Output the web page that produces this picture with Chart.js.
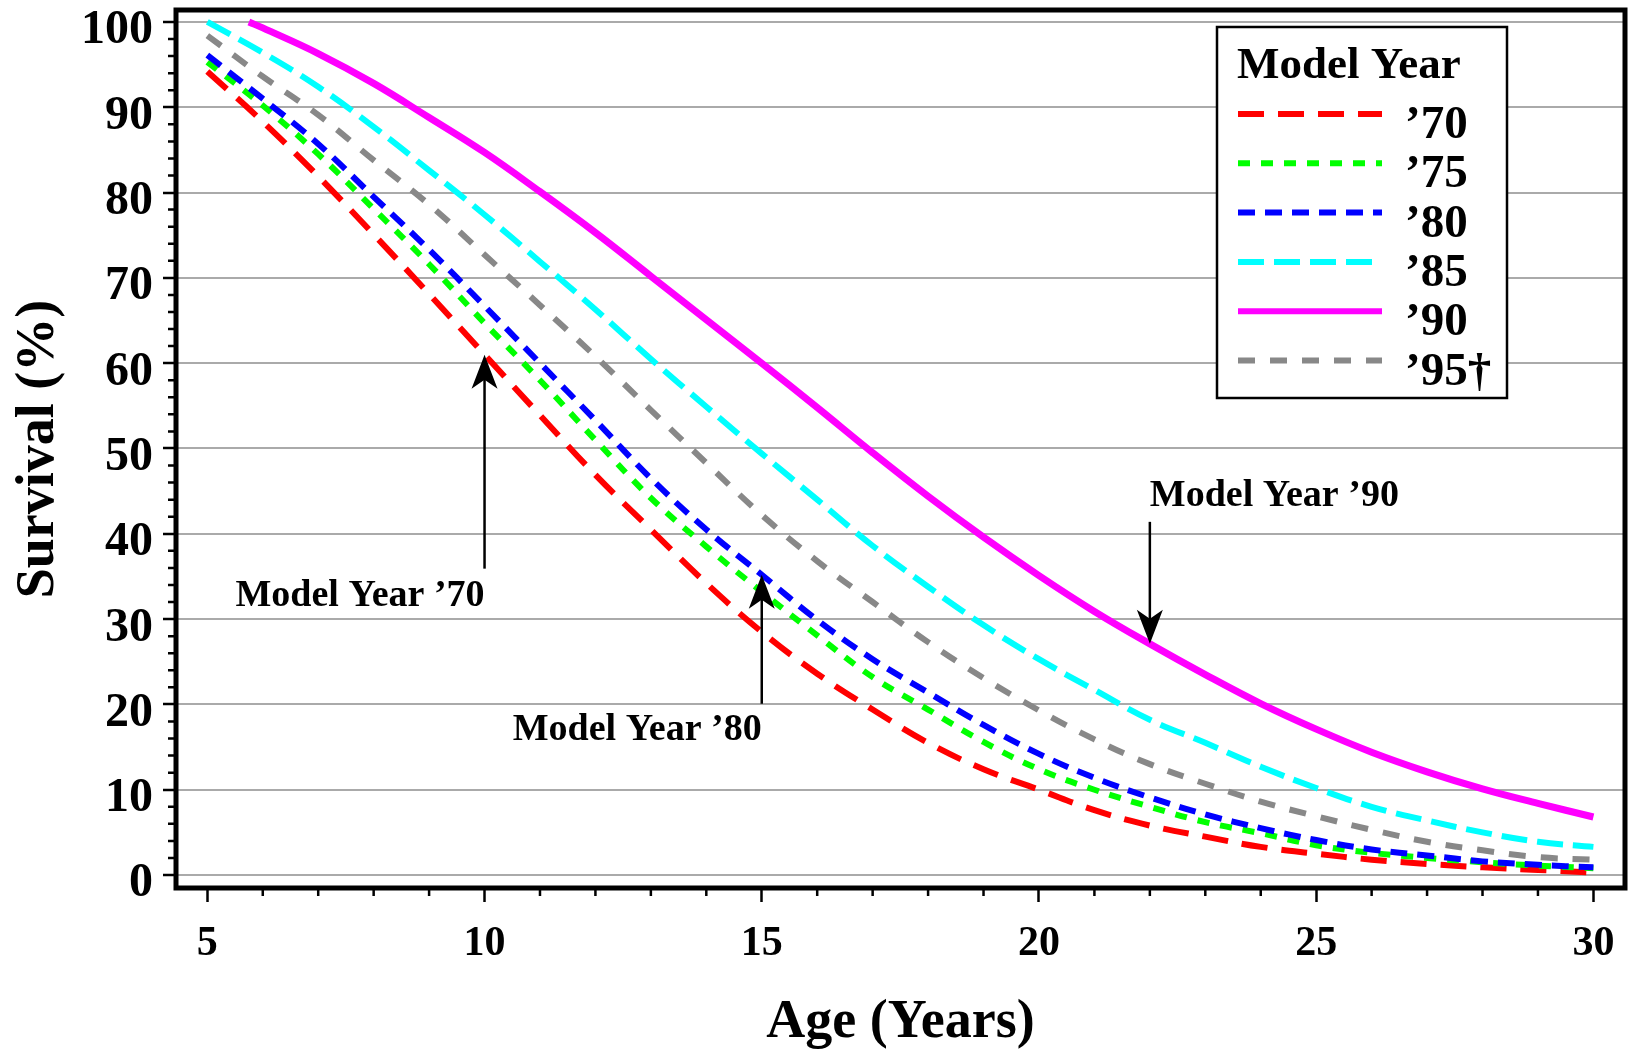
<!DOCTYPE html>
<html>
<head>
<meta charset="utf-8">
<script src="https://cdn.jsdelivr.net/npm/chart.js@4.4.1/dist/chart.umd.min.js"></script>
<style>
  html, body { margin: 0; padding: 0; background: #fff; }
  #wrap { width: 1630px; height: 1049px; }
</style>
</head>
<body>
<div id="wrap"><canvas id="myChart" width="1630" height="1049"></canvas></div>
<script>
// ages (years) and survival (%)
const ages = [5, 6, 7, 8, 9, 10, 11, 12, 13, 14, 15, 16, 17, 18, 19, 20, 21, 22, 23, 24, 25, 26, 27, 28, 29, 30];
const ages90 = [5.75, 6, 7, 8, 9, 10, 11, 12, 13, 14, 15, 16, 17, 18, 19, 20, 21, 22, 23, 24, 25, 26, 27, 28, 29, 30];

const survival70 = [94.2, 88.3, 81.9, 75.1, 68.1, 61.0, 53.9, 46.9, 40.5, 34.2, 28.5, 23.6, 19.4, 15.5, 12.4, 10.0, 7.6, 5.8, 4.5, 3.3, 2.5, 1.8, 1.3, 0.9, 0.6, 0.3];
const survival75 = [95.3, 90.2, 84.5, 78.1, 71.6, 64.7, 58.0, 51.0, 44.2, 38.5, 33.2, 28.1, 23.2, 19.4, 15.6, 12.4, 10.0, 8.0, 6.2, 4.9, 3.5, 2.6, 2.0, 1.5, 1.1, 0.8];
const survival80 = [96.1, 91.0, 85.7, 79.5, 73.3, 66.7, 60.0, 53.3, 46.5, 40.5, 35.2, 29.9, 25.3, 21.4, 17.6, 14.2, 11.4, 9.1, 7.1, 5.5, 4.1, 3.0, 2.3, 1.6, 1.2, 0.9];
const survival85 = [100, 96.4, 92.4, 87.7, 82.6, 77.4, 71.9, 66.3, 60.5, 54.9, 49.4, 44.0, 38.6, 33.8, 29.3, 25.3, 21.7, 18.2, 15.5, 12.7, 10.2, 8.0, 6.4, 5.0, 3.9, 3.3];
const survival90 = [100, 99.3, 96.3, 92.8, 88.8, 84.7, 80.1, 75.3, 70.2, 65.1, 60.0, 54.8, 49.5, 44.4, 39.6, 35.1, 30.9, 27.1, 23.5, 20.1, 17.1, 14.4, 12.1, 10.1, 8.4, 6.8];
const survival95 = [98.4, 93.6, 89.1, 83.8, 78.6, 72.7, 66.8, 60.8, 54.5, 48.3, 42.2, 36.8, 32.0, 27.3, 23.1, 19.3, 15.9, 13.0, 10.7, 8.6, 6.9, 5.3, 3.9, 2.9, 2.1, 1.8];

const seriesLabels = ["’70", "’75", "’80", "’85", "’90", "’95†"];
const xTickValues = [5, 10, 15, 20, 25, 30];
const xMinorValues = [6, 7, 8, 9, 11, 12, 13, 14, 16, 17, 18, 19, 21, 22, 23, 24, 26, 27, 28, 29];
const yTickValues = [0, 10, 20, 30, 40, 50, 60, 70, 80, 90, 100];
const yMinorValues = [2, 4, 6, 8, 12, 14, 16, 18, 22, 24, 26, 28, 32, 34, 36, 38, 42, 44, 46, 48,
  52, 54, 56, 58, 62, 64, 66, 68, 72, 74, 76, 78, 82, 84, 86, 88, 92, 94, 96, 98];

// callouts: which series / age the arrow points at
const notes = [
  { series: 0, age: 10, text: "Model Year ’70", up: true, shaft: 214, gap: 37, align: "right" },
  { series: 2, age: 15, text: "Model Year ’80", up: true, shaft: 129, gap: 36, align: "right" },
  { series: 4, age: 22, text: "Model Year ’90", up: false, shaft: 122, gap: 16, align: "left" },
];

const FONT = "'Liberation Serif', 'Times New Roman', serif";
Chart.defaults.font.family = FONT;
Chart.defaults.color = "#000";

function pts(xs, ys) {
  return xs.map((x, i) => ({ x: x, y: ys[i] }));
}

function line(label, xs, ys, color, dash, order) {
  return {
    label: label,
    data: pts(xs, ys),
    borderColor: color,
    backgroundColor: color,
    borderWidth: dash.length ? 6 : 7,
    borderDash: dash,
    borderCapStyle: "butt",
    pointRadius: 0,
    tension: 0.4,
    fill: false,
    order: order,
  };
}

const decorations = {
  id: "decorations",
  afterDraw(chart) {
    const ctx = chart.ctx;
    const area = chart.chartArea;
    const xs = chart.scales.x;
    const ys = chart.scales.y;
    ctx.save();

    // minor ticks
    ctx.strokeStyle = "#000";
    ctx.lineWidth = 2.5;
    ctx.beginPath();
    yMinorValues.forEach(v => {
      const py = ys.getPixelForValue(v);
      ctx.moveTo(area.left - 8, py);
      ctx.lineTo(area.left, py);
    });
    xMinorValues.forEach(v => {
      const px = xs.getPixelForValue(v);
      ctx.moveTo(px, area.bottom);
      ctx.lineTo(px, area.bottom + 8);
    });
    ctx.stroke();

    // plot frame
    ctx.lineWidth = 5;
    ctx.strokeRect(area.left, area.top, area.right - area.left, area.bottom - area.top);

    // arrows + labels
    ctx.fillStyle = "#000";
    ctx.font = "bold 38px " + FONT;
    notes.forEach(n => {
      const pt = chart.data.datasets[n.series].data.find(p => p.x === n.age);
      const px = xs.getPixelForValue(n.age);
      const tipY = ys.getPixelForValue(pt.y);
      const s = n.up ? 1 : -1;
      const tailY = tipY + s * n.shaft;
      ctx.lineWidth = 2.5;
      ctx.beginPath();
      ctx.moveTo(px, tailY);
      ctx.lineTo(px, tipY + s * 20);
      ctx.stroke();
      ctx.beginPath();
      ctx.moveTo(px, tipY);
      ctx.lineTo(px - 13, tipY + s * 34);
      ctx.lineTo(px, tipY + s * 25);
      ctx.lineTo(px + 13, tipY + s * 34);
      ctx.closePath();
      ctx.fill();
      ctx.textAlign = n.align;
      ctx.textBaseline = "alphabetic";
      ctx.fillText(n.text, px, tailY + s * n.gap);
    });

    // legend box
    const bx = area.right - 408, by = area.top + 17, bw = 290, bh = 371;
    ctx.fillStyle = "#fff";
    ctx.fillRect(bx, by, bw, bh);
    ctx.strokeStyle = "#000";
    ctx.lineWidth = 2.5;
    ctx.strokeRect(bx, by, bw, bh);
    ctx.fillStyle = "#000";
    ctx.textAlign = "left";
    ctx.font = "bold 45px " + FONT;
    ctx.fillText("Model Year", bx + 20, by + 51);
    ctx.font = "bold 47px " + FONT;
    chart.data.datasets.forEach((ds, i) => {
      const ly = by + 87 + i * 49.3;
      ctx.strokeStyle = ds.borderColor;
      ctx.lineWidth = 6;
      ctx.lineCap = "butt";
      ctx.setLineDash(ds.borderDash || []);
      ctx.beginPath();
      ctx.moveTo(bx + 21, ly);
      ctx.lineTo(bx + 165, ly);
      ctx.stroke();
      ctx.setLineDash([]);
      ctx.fillText(ds.label, bx + 188, ly + 24);
    });
    ctx.restore();
  },
};

const ctx = document.getElementById("myChart");
new Chart(ctx, {
  type: "line",
  data: {
    datasets: [
      line(seriesLabels[0], ages, survival70, "#ff0000", [26, 14], 6),
      line(seriesLabels[1], ages, survival75, "#00ff00", [12, 11], 5),
      line(seriesLabels[2], ages, survival80, "#0000ff", [17, 10], 4),
      line(seriesLabels[3], ages, survival85, "#00ffff", [26, 10], 3),
      line(seriesLabels[4], ages90, survival90, "#ff00ff", [], 2),
      line(seriesLabels[5], ages, survival95, "#888888", [17, 15], 1),
    ],
  },
  options: {
    responsive: false,
    animation: false,
    devicePixelRatio: 1,
    layout: { padding: { top: 10, right: 5, left: 0, bottom: 0 } },
    plugins: {
      legend: { display: false },
      tooltip: { enabled: false },
    },
    scales: {
      x: {
        type: "linear",
        min: 4.435,
        max: 30.57,
        afterBuildTicks: (s) => { s.ticks = xTickValues.map(v => ({ value: v })); },
        afterFit: (s) => { s.height = 161; s.paddingLeft = 0; s.paddingRight = 0; },
        border: { display: false },
        grid: {
          drawOnChartArea: false,
          color: "rgba(0,0,0,0)",
          tickColor: "#000",
          tickLength: 14,
          tickWidth: 2.5,
        },
        ticks: {
          color: "#000",
          padding: 17,
          maxRotation: 0,
          font: { size: 42, weight: "bold", lineHeight: 1.2 },
        },
        title: {
          display: true,
          text: "Age (Years)",
          color: "#000",
          padding: { top: 0, bottom: -6 },
          font: { size: 54, weight: "bold", lineHeight: 1.2 },
        },
      },
      y: {
        type: "linear",
        min: -1.52,
        max: 101.4,
        afterBuildTicks: (s) => { s.ticks = yTickValues.map(v => ({ value: v })); },
        afterFit: (s) => { s.width = 176; s.paddingTop = 0; s.paddingBottom = 0; },
        border: { display: false },
        grid: {
          color: "#aaaaaa",
          lineWidth: 2,
          tickColor: "#000",
          tickLength: 13,
          tickWidth: 2.5,
        },
        ticks: {
          color: "#000",
          padding: 10,
          labelOffset: 9,
          font: { size: 48, weight: "bold", lineHeight: 1.2 },
        },
        title: {
          display: true,
          text: "Survival (%)",
          color: "#000",
          padding: { top: 7, bottom: 0 },
          font: { size: 54, weight: "bold", lineHeight: 1.2 },
        },
      },
    },
  },
  plugins: [decorations],
});
</script>
</body>
</html>
